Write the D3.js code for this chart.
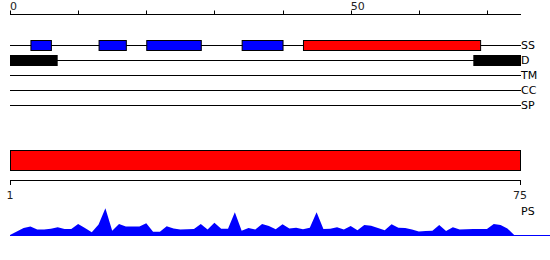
<!DOCTYPE html>
<html>
<head>
<meta charset="utf-8">
<script src="https://cdn.jsdelivr.net/npm/d3@7"></script>
<style>
  body { margin: 0; background: #fff; }
  svg { display: block; font-family: 'DejaVu Sans', sans-serif; }
</style>
</head>
<body>
<div id="chart"></div>
<script>
// feature tracks (residue ranges on a 0..75 ruler)
const tracks = ['SS', 'D', 'TM', 'CC', 'SP'];
const helixRanges = [[43, 69]];
const strandRanges = [[3, 6], [13, 17], [20, 28], [34, 40]];
const disorderRanges = [[0, 7], [68, 75]];
const domainRange = [1, 75];
const rulerTicks = [0, 10, 20, 30, 40, 50, 60, 70];
const rulerLabels = [0, 50];
const seqLabels = [1, 75];
// per-residue propensity profile (PS)
const psValues = [
  0.00, 0.12, 0.23, 0.28, 0.18, 0.18, 0.21, 0.26, 0.20, 0.20,
  0.37, 0.23, 0.09, 0.35, 0.89, 0.14, 0.37, 0.28, 0.28, 0.28,
  0.39, 0.11, 0.11, 0.29, 0.22, 0.18, 0.19, 0.20, 0.37, 0.18,
  0.41, 0.21, 0.21, 0.76, 0.14, 0.23, 0.18, 0.37, 0.30, 0.19,
  0.36, 0.22, 0.24, 0.19, 0.24, 0.76, 0.20, 0.21, 0.26, 0.18,
  0.30, 0.16, 0.33, 0.31, 0.23, 0.16, 0.36, 0.24, 0.23, 0.18,
  0.12, 0.13, 0.14, 0.33, 0.13, 0.26, 0.18, 0.19, 0.20, 0.20,
  0.20, 0.37, 0.33, 0.22, 0.00
];

const width = 550, height = 260;
const svg = d3.select('#chart').append('svg')
  .attr('width', width).attr('height', height);

const x = d3.scaleLinear().domain([0, 75]).range([10, 521]);
const trackY = d3.scalePoint().domain(tracks).range([45, 105]);

// top ruler
const ruler = svg.append('g').attr('class', 'ruler');
ruler.append('line')
  .attr('x1', x(0)).attr('x2', x(75))
  .attr('y1', 14.5).attr('y2', 14.5)
  .attr('stroke', '#000');
ruler.selectAll('.tick').data(rulerTicks).join('line')
  .attr('class', 'tick')
  .attr('x1', d => Math.round(x(d)) + 0.5).attr('x2', d => Math.round(x(d)) + 0.5)
  .attr('y1', 10.5).attr('y2', 14.5)
  .attr('stroke', '#000');
ruler.selectAll('text').data(rulerLabels).join('text')
  .attr('x', d => x(d)).attr('y', 10)
  .attr('font-size', 11).attr('fill', '#222')
  .text(d => d);

// track lines + labels
const tr = svg.append('g').attr('class', 'tracks');
tr.selectAll('line').data(tracks).join('line')
  .attr('x1', x(0)).attr('x2', x(75))
  .attr('y1', d => trackY(d) + 0.5).attr('y2', d => trackY(d) + 0.5)
  .attr('stroke', '#000');
tr.selectAll('text').data(tracks).join('text')
  .attr('x', x(75)).attr('y', d => trackY(d) + 1)
  .attr('dominant-baseline', 'middle')
  .attr('font-size', 11).attr('fill', '#000')
  .text(d => d);

// secondary structure boxes
const boxH = 10;
tr.selectAll('.strand').data(strandRanges).join('rect')
  .attr('class', 'strand')
  .attr('x', d => x(d[0]) + 0.5).attr('width', d => x(d[1]) - x(d[0]))
  .attr('y', trackY('SS') - boxH / 2 + 0.5).attr('height', boxH)
  .attr('fill', '#0000ff').attr('stroke', '#000');
tr.selectAll('.helix').data(helixRanges).join('rect')
  .attr('class', 'helix')
  .attr('x', d => x(d[0]) + 0.5).attr('width', d => x(d[1]) - x(d[0]))
  .attr('y', trackY('SS') - boxH / 2 + 0.5).attr('height', boxH)
  .attr('fill', '#ff0000').attr('stroke', '#000');
tr.selectAll('.dis').data(disorderRanges).join('rect')
  .attr('class', 'dis')
  .attr('x', d => x(d[0])).attr('width', d => x(d[1]) - x(d[0]))
  .attr('y', trackY('D') - 5).attr('height', 11)
  .attr('fill', '#000');

// domain bar + sequence axis
const xs = d3.scaleLinear().domain(domainRange).range([10, 520]);
svg.append('rect')
  .attr('x', xs(domainRange[0]) + 0.5).attr('width', xs(domainRange[1]) - xs(domainRange[0]))
  .attr('y', 150.5).attr('height', 20)
  .attr('fill', '#ff0000').attr('stroke', '#000');
const sa = svg.append('g');
sa.append('line')
  .attr('x1', xs(1)).attr('x2', xs(75) + 1)
  .attr('y1', 180.5).attr('y2', 180.5).attr('stroke', '#000');
sa.selectAll('.tick').data(seqLabels).join('line')
  .attr('class', 'tick')
  .attr('x1', d => xs(d) + 0.5).attr('x2', d => xs(d) + 0.5)
  .attr('y1', 180.5).attr('y2', 185)
  .attr('stroke', '#000');
sa.selectAll('text').data(seqLabels).join('text')
  .attr('x', d => xs(d)).attr('y', 199)
  .attr('text-anchor', 'middle')
  .attr('font-size', 11).attr('fill', '#222')
  .text(d => d);

// PS profile
const y = d3.scaleLinear().domain([0, 1]).range([235, 205]);
const area = d3.area()
  .x((d, i) => x(i))
  .y0(y(0))
  .y1(d => y(d));
svg.append('path')
  .datum(psValues)
  .attr('d', area)
  .attr('fill', '#0000ff');
svg.append('line')
  .attr('x1', x(0)).attr('x2', width)
  .attr('y1', y(0) + 0.5).attr('y2', y(0) + 0.5)
  .attr('stroke', '#0000ff');
svg.append('text')
  .attr('x', 521).attr('y', 215)
  .attr('font-size', 11).attr('fill', '#000')
  .text('PS');
</script>
</body>
</html>
